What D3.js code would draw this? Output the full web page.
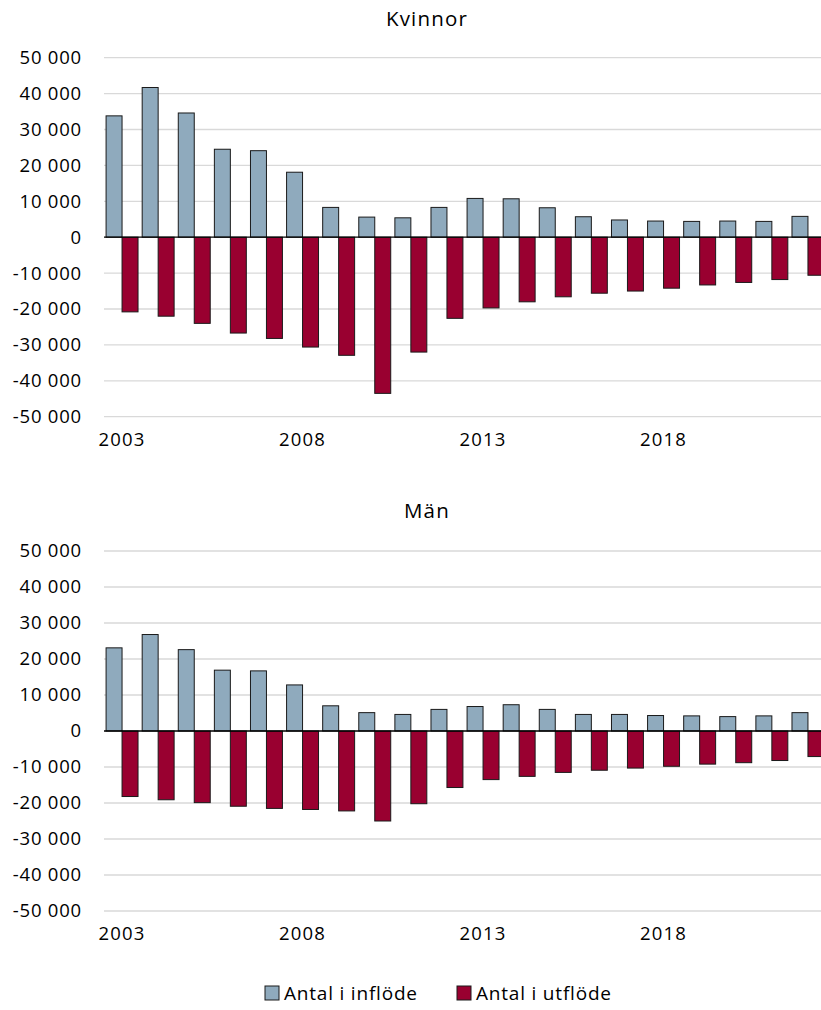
<!DOCTYPE html>
<html>
<head>
<meta charset="utf-8">
<script src="https://cdn.jsdelivr.net/npm/d3@7"></script>
<style>
  body { margin: 0; background: #fff; }
  svg { display: block; }
  text { font-family: "Open Sans", "Liberation Sans", sans-serif; fill: #000; }
</style>
</head>
<body>
<svg id="chart" width="821" height="1010"></svg>
<script>
const years = d3.range(2003, 2023);
const yearTicks = [2003, 2008, 2013, 2018];
const yTicks = [-50000, -40000, -30000, -20000, -10000, 0, 10000, 20000, 30000, 40000, 50000];
const series = ["Antal i inflöde", "Antal i utflöde"];
const colors = ["#8faabd", "#990030"];

// Kvinnor
const kvinnorIn = [33800, 41700, 34600, 24500, 24100, 18100, 8300, 5600, 5400, 8300, 10800, 10700, 8200, 5700, 4800, 4500, 4400, 4500, 4400, 5800];
const kvinnorUt = [-20800, -22000, -24000, -26700, -28200, -30600, -32900, -43500, -32000, -22600, -19700, -18000, -16600, -15600, -15000, -14200, -13300, -12600, -11800, -10600];
// Män
const manIn = [23100, 26800, 22600, 16900, 16700, 12800, 7000, 5100, 4600, 6000, 6800, 7300, 6000, 4600, 4600, 4300, 4200, 4000, 4200, 5100];
const manUt = [-18200, -19100, -19900, -20900, -21500, -21800, -22200, -25000, -20200, -15700, -13500, -12600, -11500, -10900, -10300, -9800, -9200, -8800, -8200, -7100];

const panels = [
  { title: "Kvinnor", inflow: kvinnorIn, outflow: kvinnorUt, top: 57.7, bottom: 416.7, titleY: 18 },
  { title: "Män", inflow: manIn, outflow: manUt, top: 551, bottom: 911, titleY: 510 }
];

const locale = d3.formatLocale({ decimal: ",", thousands: " ", grouping: [3], currency: ["", ""], minus: "-" });
const fmt = locale.format(",");

const svg = d3.select("#chart");
const left = 104, right = 826;

const x = d3.scaleBand().domain(years).range([left, right]).paddingInner(0).paddingOuter(0);
const xs = d3.scaleBand().domain(series).range([0, x.bandwidth()]).paddingInner(0).paddingOuter(0.13);

panels.forEach(p => {
  const g = svg.append("g");
  const y = d3.scaleLinear().domain([-50000, 50000]).range([p.bottom, p.top]);

  g.append("text")
    .attr("x", 427).attr("y", p.titleY)
    .attr("text-anchor", "middle").attr("dominant-baseline", "central")
    .attr("font-size", "20.5px").attr("letter-spacing", "1.2px")
    .text(p.title);

  // gridlines
  g.selectAll("line.grid")
    .data(yTicks.filter(d => d !== 0))
    .enter().append("line")
    .attr("class", "grid")
    .attr("x1", left).attr("x2", right)
    .attr("y1", d => y(d)).attr("y2", d => y(d))
    .attr("stroke", "#d9d9d9").attr("stroke-width", 1.3);

  // y axis labels
  const yAxis = g.append("g")
    .attr("transform", `translate(${left},0)`)
    .call(d3.axisLeft(y).tickValues(yTicks).tickFormat(fmt).tickSize(0).tickPadding(22));
  yAxis.select(".domain").remove();
  yAxis.selectAll("text")
    .attr("font-size", "18.5px").attr("letter-spacing", "0.8px")
    .attr("font-family", "'Open Sans', sans-serif").attr("fill", "#000");

  const rows = years.map((yr, i) => ({ year: yr, vals: [p.inflow[i], p.outflow[i]] }));

  const groups = g.selectAll("g.year")
    .data(rows)
    .enter().append("g")
    .attr("transform", d => `translate(${x(d.year)},0)`);

  groups.selectAll("rect")
    .data(d => d.vals.map((v, k) => ({ s: series[k], v, k })))
    .enter().append("rect")
    .attr("x", d => xs(d.s))
    .attr("width", xs.bandwidth())
    .attr("y", d => y(Math.max(0, d.v)))
    .attr("height", d => Math.abs(y(d.v) - y(0)))
    .attr("fill", d => colors[d.k])
    .attr("stroke", "#1a1a1a").attr("stroke-width", 1);

  // zero line
  g.append("line")
    .attr("x1", left).attr("x2", right)
    .attr("y1", y(0)).attr("y2", y(0))
    .attr("stroke", "#000").attr("stroke-width", 1.3);

  // x labels
  const xAxis = g.append("g")
    .attr("transform", `translate(0,${p.bottom})`)
    .call(d3.axisBottom(x).tickValues(yearTicks).tickSize(0).tickPadding(16));
  xAxis.select(".domain").remove();
  xAxis.selectAll("text")
    .attr("font-size", "18.5px").attr("letter-spacing", "1.2px")
    .attr("font-family", "'Open Sans', sans-serif").attr("fill", "#000");
});

// legend
const legend = svg.append("g").attr("transform", "translate(0,993)");
const legendX = [265, 457];
series.forEach((s, i) => {
  legend.append("rect")
    .attr("x", legendX[i]).attr("y", -7)
    .attr("width", 14).attr("height", 14)
    .attr("fill", colors[i]).attr("stroke", "#1a1a1a").attr("stroke-width", 1);
  legend.append("text")
    .attr("x", legendX[i] + 19).attr("y", 0)
    .attr("dominant-baseline", "central")
    .attr("font-size", "19px").attr("letter-spacing", "0.8px")
    .text(s);
});
</script>
</body>
</html>
